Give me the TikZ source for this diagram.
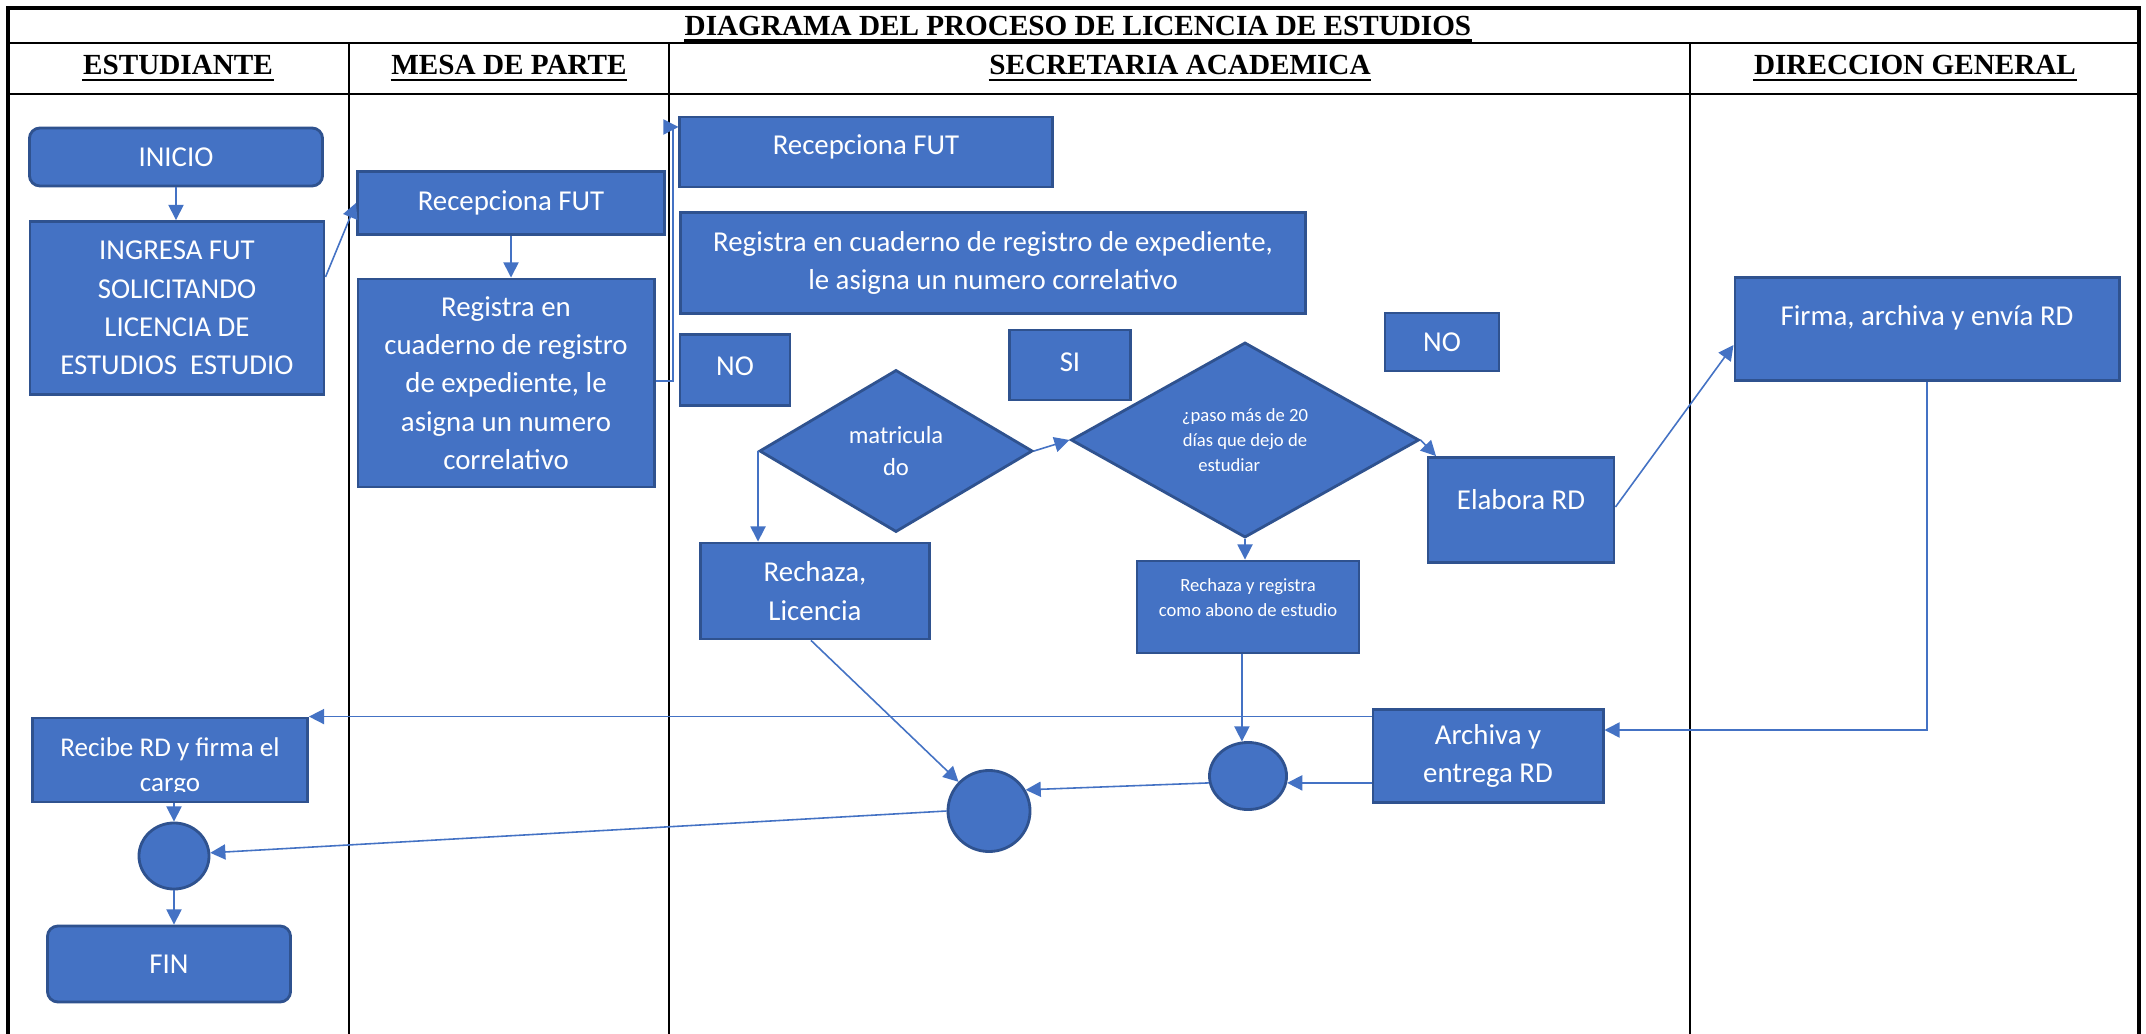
\documentclass[tikz,border=0pt]{standalone}
\usepackage{fontspec}
\setmainfont{Liberation Serif}
\newfontfamily\bodyfont{Carlito}
\usetikzlibrary{arrows.meta,shapes.geometric}
\definecolor{boxblue}{HTML}{4472C4}
\definecolor{boxedge}{HTML}{2F528F}

\begin{document}
\begin{tikzpicture}[x=0.01cm, y=-0.01cm,
  tableline/.style={line width=0.8pt, black},
  hdr/.style={font=\bfseries\fontsize{8.3}{10}\selectfont, inner sep=0pt, anchor=base},
  box/.style={draw=boxedge, line width=0.8pt, fill=boxblue, text=white, align=center,
              inner sep=0pt, font=\bodyfont\fontsize{8.2}{10.9}\selectfont},
  txt/.style={text=white, align=center, inner sep=0pt, font=\bodyfont\fontsize{8.2}{10.9}\selectfont},
  smalltxt/.style={font=\bodyfont\fontsize{5.3}{7}\selectfont},
  term/.style={box, rounded corners=3pt},
  dec/.style={box, diamond},
  junction/.style={box, ellipse},
  conn/.style={draw=boxblue, line width=0.45pt, -{Triangle[length=4.3pt,width=4.3pt]}},
]
\useasboundingbox (0,0) rectangle (2146,1034);
\fill[white] (0,0) rectangle (2146,1034);

% ---- swimlane table ----
\draw[tableline, line width=0.9pt] (8,1034) -- (8,8) -- (2139,8) -- (2139,1034);
\draw[tableline] (8,43) -- (2139,43);
\draw[tableline] (8,94) -- (2139,94);
\draw[tableline, line width=0.65pt] (349,43) -- (349,1034);
\draw[tableline, line width=0.65pt] (669,43) -- (669,1034);
\draw[tableline, line width=0.65pt] (1690,43) -- (1690,1034);

\node[hdr] (title) at (1078,36) {DIAGRAMA DEL PROCESO DE LICENCIA DE ESTUDIOS};
\draw[line width=0.9pt] ([yshift=-1.4pt]title.base west) -- ([yshift=-1.4pt]title.base east);
\node[hdr] (h1) at (178,75) {ESTUDIANTE};
\node[hdr] (h2) at (509,75) {MESA DE PARTE};
\node[hdr] (h3) at (1180,75) {SECRETARIA ACADEMICA};
\node[hdr] (h4) at (1915,75) {DIRECCION GENERAL};
\foreach \h in {h1,h2,h3,h4}
  \draw[line width=0.75pt] ([yshift=-1.4pt]\h.base west) -- ([yshift=-1.4pt]\h.base east);

% ---- ESTUDIANTE ----
\node[term, minimum width=2.93cm, minimum height=0.58cm] (inicio) at (176,157) {INICIO};
\node[box, minimum width=2.94cm, minimum height=1.73cm] (ingresa) at (177,308)
  {INGRESA FUT\\SOLICITANDO\\LICENCIA DE\\ESTUDIOS\ \ ESTUDIO};
\node[box, minimum width=2.75cm, minimum height=0.84cm] (recibe) at (170,760) {};
\begin{scope}
  \clip (recibe.north west) rectangle (recibe.east |- 0,791);
  \node[txt, font=\bodyfont\fontsize{7.7}{10}\selectfont] (recibetxt) at (170,767)
    {Recibe RD y firma el\\cargo};
\end{scope}
\node[junction, minimum width=0.70cm, minimum height=0.66cm] (circS) at (174,856) {};
\node[term, minimum width=2.43cm, minimum height=0.76cm] (fin) at (169,964) {FIN};

% ---- MESA DE PARTE ----
\node[box, minimum width=3.07cm, minimum height=0.63cm] (recmesa) at (511,203) {Recepciona FUT};
\node[box, minimum width=2.96cm, minimum height=2.08cm] (regmesa) at (506,383)
  {Registra en\\cuaderno de registro\\de expediente, le\\asigna un numero\\correlativo};

% ---- SECRETARIA ACADEMICA ----
\node[box, minimum width=3.72cm, minimum height=0.70cm,
  label={[txt, yshift=1.4pt]center:Recepciona FUT}] (recsec) at (866,152) {};
\node[box, minimum width=6.25cm, minimum height=1.01cm] (regsec) at (993,263)
  {Registra en cuaderno de registro de expediente,\\le asigna un numero correlativo};
\node[box, minimum width=1.10cm, minimum height=0.71cm,
  label={[txt, yshift=1.1pt]center:NO}] (noA) at (735,370) {};
\node[box, minimum width=1.21cm, minimum height=0.70cm,
  label={[txt, yshift=0.9pt]center:SI}] (si) at (1070,365) {};
\node[box, minimum width=1.14cm, minimum height=0.58cm] (noB) at (1442,342) {NO};
\node[dec, minimum width=2.73cm, minimum height=1.62cm,
  font=\bodyfont\fontsize{7}{9.1}\selectfont] (matric) at (896,451) {matricula\\do};
\node[dec, minimum width=3.48cm, minimum height=1.95cm, smalltxt] (paso) at (1245,440)
  {¿paso más de 20\\días que dejo de\\estudiar\hspace*{9pt}};
\node[box, minimum width=1.86cm, minimum height=1.05cm,
  label={[txt, yshift=3.1pt]center:Elabora RD}] (elabora) at (1521,510) {};
\node[box, minimum width=2.29cm, minimum height=0.96cm] (rechL) at (815,591) {Rechaza,\\Licencia};
\node[box, minimum width=2.22cm, minimum height=0.92cm,
  label={[txt, smalltxt, yshift=2.6pt]center:{Rechaza y registra\\como abono de estudio}}]
  (rechR) at (1248,607) {};
\node[box, minimum width=2.30cm, minimum height=0.93cm] (archiva) at (1488,756) {Archiva y\\entrega RD};
\node[junction, minimum width=0.82cm, minimum height=0.81cm] (circB) at (989,811) {};
\node[junction, minimum width=0.77cm, minimum height=0.67cm] (circR) at (1248,776) {};

% ---- DIRECCION GENERAL ----
\node[box, minimum width=3.84cm, minimum height=1.03cm,
  label={[txt, yshift=3.1pt]center:{Firma, archiva y envía RD}}] (firma) at (1927,329) {};

% ---- connectors ----
\draw[conn] (inicio.south) -- (inicio.south |- ingresa.north);
\draw[conn] (ingresa.east |- 0,277) -- (recmesa.west);
\draw[conn] (recmesa.south) -- (recmesa.south |- regmesa.north);
\draw[conn] (regmesa.east |- 0,381) -| (673,127) -- (recsec.west |- 0,127);
\draw[conn] (matric.west) -- (matric.west |- rechL.north);
\draw[conn] (matric.east) -- (paso.west);
\draw[conn] (paso.east) -- (1436,0 |- elabora.north);
\draw[conn] (paso.south) -- (paso.south |- rechR.north);
\draw[conn] (elabora.east |- 0,507) -- (firma.west |- 0,345);
\draw[conn] (firma.south) |- (archiva.east |- 0,730);
\draw[conn] (archiva.west |- recibe.north east) -- (recibe.north east);
\draw[conn] (811,0 |- rechL.south) -- (circB);
\draw[conn] (circR.190) -- (circB.30);
\draw[conn] (archiva.west |- circR.-10) -- (circR.-10);
\draw[conn] (circR.100 |- rechR.south) -- (circR.100);
\draw[conn] (circB.west) -- (circS.5);
\draw[conn] (circS.north |- recibe.south) -- (circS.north);
\draw[conn] (circS.south) -- (circS.south |- fin.north);
\end{tikzpicture}
\end{document}
